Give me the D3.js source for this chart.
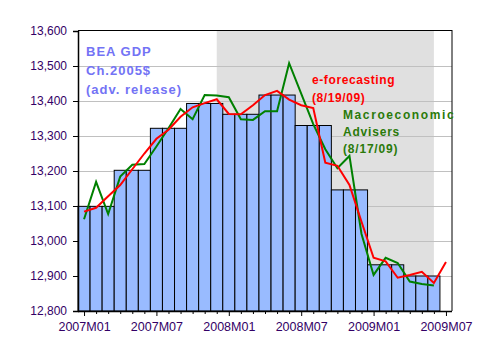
<!DOCTYPE html>
<html><head><meta charset="utf-8">
<script src="https://cdn.jsdelivr.net/npm/d3@7"></script>
<style>
html,body{margin:0;padding:0;background:#fff;}
svg{display:block;font-family:Arial,"Liberation Sans",sans-serif;}
</style></head>
<body><svg id="c" width="500" height="356"></svg>
<script>
const months = ["2007M01","2007M02","2007M03","2007M04","2007M05","2007M06","2007M07","2007M08","2007M09","2007M10","2007M11","2007M12",
"2008M01","2008M02","2008M03","2008M04","2008M05","2008M06","2008M07","2008M08","2008M09","2008M10","2008M11","2008M12",
"2009M01","2009M02","2009M03","2009M04","2009M05","2009M06","2009M07"];
const quarters = ["2007Q1","2007Q2","2007Q3","2007Q4","2008Q1","2008Q2","2008Q3","2008Q4","2009Q1","2009Q2"];
const gdpLevels = [13099, 13202, 13322, 13393, 13362, 13417, 13330, 13146, 12932, 12900];
const eForecasting = [13084,13095,13128,13160,13205,13250,13292,13318,13355,13382,13394,13405,
13363,13362,13388,13417,13429,13404,13388,13380,13224,13215,13160,13055,
12952,12942,12895,12903,12912,12880,12940];
const macroAdvisers = [13062,13169,13077,13184,13218,13220,13270,13322,13377,13348,13417,13416,
13411,13348,13346,13371,13371,13508,13421,13334,13262,13208,13243,13020,
12903,12952,12937,12884,12877,12873];
const recession = ["2007M12","2009M06"];
const yTicks = [12800,12900,13000,13100,13200,13300,13400,13500,13600];
const xLabelMonths = ["2007M01","2007M07","2008M01","2008M07","2009M01","2009M07"];

const svg = d3.select("#c");
const L=78, R=452, T=31, B=311;
const x = d3.scalePoint().domain(months).range([L,R]).padding(0.5);
const step = x.step();
const y = d3.scaleLinear().domain([12800,13600]).range([B,T]);
const tickColor = "#330066";

// recession shading
svg.append("rect").attr("x", x(recession[0])).attr("y", T)
  .attr("width", x(recession[1]) - x(recession[0])).attr("height", B - T)
  .attr("fill", "#e0e0e0");

// gridlines
svg.append("g").selectAll("line").data(yTicks.slice(1,-1)).join("line")
  .attr("x1", L).attr("x2", R).attr("y1", d=>Math.round(y(d))+0.5).attr("y2", d=>Math.round(y(d))+0.5)
  .attr("stroke", "#c0c0c0").attr("stroke-width", 1);

// bars (quarterly level shown for each month)
const barData = [];
quarters.forEach((q,i)=>{ for(let k=0;k<3;k++) barData.push({m: months[3*i+k], v: gdpLevels[i]}); });
svg.append("g").selectAll("rect").data(barData).join("rect")
  .attr("x", d=>x(d.m)-step/2).attr("width", step)
  .attr("y", d=>y(d.v)).attr("height", d=>B - y(d.v))
  .attr("fill", "#99bbff").attr("stroke", "#000").attr("stroke-width", 1);

// lines
const line = d3.line().x((d,i)=>x(months[i])).y(d=>y(d));
svg.append("path").datum(macroAdvisers).attr("d", line)
  .attr("fill","none").attr("stroke","#008000").attr("stroke-width",2);
svg.append("path").datum(eForecasting).attr("d", line)
  .attr("fill","none").attr("stroke","#ff0000").attr("stroke-width",2);

// frame
svg.append("line").attr("x1",L).attr("x2",R).attr("y1",T-0.5).attr("y2",T-0.5).attr("stroke","#000");
svg.append("line").attr("x1",R).attr("x2",R).attr("y1",T-1).attr("y2",B).attr("stroke","#000");

// y axis
const ya = svg.append("g").attr("transform",`translate(${L},0)`)
  .call(d3.axisLeft(y).tickValues(yTicks).tickSize(5).tickPadding(6).tickFormat(d3.format(",")));
ya.select(".domain").attr("stroke","#000").attr("stroke-width",1.5);
ya.selectAll(".tick line").attr("stroke","#000");
ya.selectAll("text").attr("fill",tickColor).style("font-size","12px").style("font-family","Arial, 'Liberation Sans', sans-serif");

// x axis
const xa = svg.append("g").attr("transform",`translate(0,${B})`)
  .call(d3.axisBottom(x).tickSize(3).tickPadding(8).tickSizeOuter(0)
    .tickFormat(d=> xLabelMonths.includes(d) ? d : ""));
xa.select(".domain").attr("stroke","#000").attr("stroke-width",1.5).attr("d",`M${L},0.5H${R}`);
xa.selectAll(".tick line").attr("stroke","#000").attr("y2", d=> xLabelMonths.includes(d) ? 5 : 3);
xa.selectAll("text").attr("fill",tickColor).style("font-size","12.5px").style("font-family","Arial, 'Liberation Sans', sans-serif");

// annotations
const bea = ["BEA GDP","Ch.2005$","(adv. release)"];
svg.append("g").selectAll("text").data(bea).join("text")
  .attr("x",86).attr("y",(d,i)=>56+i*19.2).text(d=>d)
  .attr("fill","#7373f5").style("font-weight","bold").style("font-size","13px").style("letter-spacing","1px");
const ef = ["e-forecasting","(8/19/09)"];
svg.append("g").selectAll("text").data(ef).join("text")
  .attr("x",312).attr("y",(d,i)=>83.5+i*18.3).text(d=>d)
  .attr("fill","#ff0000").style("font-weight","bold").style("font-size","12px").style("letter-spacing","0.6px");
const ma = ["Macroeconomic","Advisers","(8/17/09)"];
svg.append("g").selectAll("text").data(ma).join("text")
  .attr("x",343).attr("y",(d,i)=>118.5+i*17).text(d=>d)
  .attr("fill","#2a7a0a").style("font-weight","bold").style("font-size","12px")
  .style("letter-spacing",(d,i)=> i===0 ? "1.6px" : "0.8px");
</script></body></html>
